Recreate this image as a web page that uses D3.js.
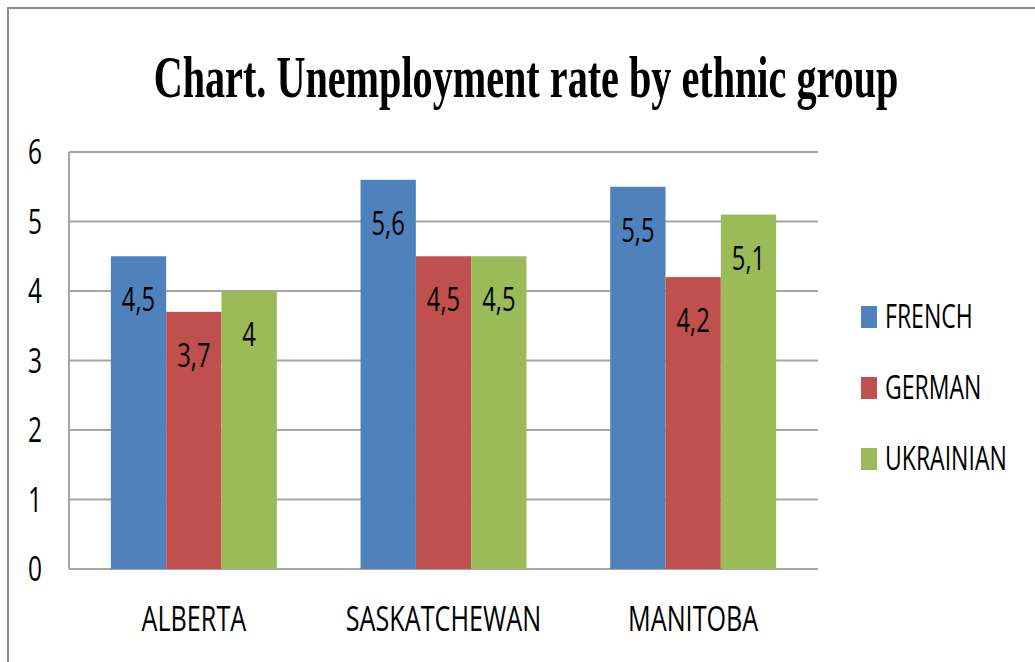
<!DOCTYPE html>
<html>
<head>
    <title>Unemployment rate by ethnic group</title>
    <script src="https://d3js.org/d3.v7.min.js"></script>
    <style>
        body { margin: 0; background: #fff; }
        svg { display: block; }
    </style>
</head>
<body>
    <div id="chart"></div>
    <script>
        // DATA
        var provinces = ['ALBERTA', 'SASKATCHEWAN', 'MANITOBA']
        var groups = ['FRENCH', 'GERMAN', 'UKRAINIAN']
        var french = [4.5, 5.6, 5.5]
        var german = [3.7, 4.5, 4.2]
        var ukrainian = [4, 4.5, 5.1]
        var yTicks = [0, 1, 2, 3, 4, 5, 6]
        var colors = ['#4F81BD', '#C0504D', '#9BBB59']

        var series = [french, german, ukrainian]

        // GENERAL SETUP
        var width = 1035
        var height = 662
        var sx = 0.72   // the picture is squeezed sideways, so is its text
        var font = '"Open Sans", sans-serif'

        var svg = d3.select('#chart').append('svg')
            .attr('width', width)
            .attr('height', height)

        // outer frame
        svg.append('rect')
            .attr('x', 8).attr('y', 8)
            .attr('width', width + 20).attr('height', height + 20)
            .attr('fill', 'none')
            .attr('stroke', '#8c8c8c')
            .attr('stroke-width', 2)

        function label(x, y, txt, size, anchor) {
            return svg.append('text')
                .attr('transform', 'translate(' + x + ',' + y + ') scale(' + sx + ',1)')
                .attr('text-anchor', anchor)
                .style('font-family', font)
                .style('font-size', size + 'px')
                .attr('fill', '#000')
                .text(txt)
        }

        // title, squeezed to the width it has in the picture
        var title = svg.append('text')
            .attr('text-anchor', 'middle')
            .style('font-family', '"Liberation Serif", "Times New Roman", serif')
            .style('font-weight', 'bold')
            .style('font-size', '60px')
            .text('Chart. Unemployment rate by ethnic group')
        var titleScale = 745 / title.node().getComputedTextLength()
        title.attr('transform', 'translate(526,97) scale(' + titleScale + ',1)')

        // SCALES
        var plotLeft = 69, plotRight = 818, plotTop = 152, plotBottom = 569
        var y = d3.scaleLinear().domain([0, 6]).range([plotBottom, plotTop])
        var x0 = d3.scaleBand().domain(provinces).range([plotLeft, plotRight]).padding(0)
        var x1 = d3.scaleBand().domain(groups).range([0, x0.bandwidth()])
            .paddingInner(0).paddingOuter(0.757)

        // gridlines
        svg.append('g').selectAll('line').data(yTicks).join('line')
            .attr('x1', plotLeft).attr('x2', plotRight)
            .attr('y1', d => y(d)).attr('y2', d => y(d))
            .attr('stroke', '#a6a6a6')
            .attr('stroke-width', 2)
        svg.append('line')
            .attr('x1', plotLeft).attr('x2', plotLeft)
            .attr('y1', plotTop).attr('y2', plotBottom)
            .attr('stroke', '#a6a6a6')
            .attr('stroke-width', 2)

        // y tick labels
        yTicks.forEach(function (t) {
            label(42, y(t) + 12, t, 34, 'end')
        })

        // BARS
        provinces.forEach(function (p, i) {
            groups.forEach(function (g, j) {
                var v = series[j][i]
                var bx = x0(p) + x1(g)
                svg.append('rect')
                    .attr('x', bx)
                    .attr('y', y(v))
                    .attr('width', x1.bandwidth())
                    .attr('height', y(0) - y(v))
                    .attr('fill', colors[j])
                label(bx + x1.bandwidth() / 2, y(v) + 55, String(v).replace('.', ','), 33, 'middle')
            })
        })

        // category labels
        provinces.forEach(function (p) {
            label(x0(p) + x0.bandwidth() / 2, 631, p, 35, 'middle')
        })

        // LEGEND
        groups.forEach(function (g, j) {
            var ly = 306 + j * 71
            svg.append('rect')
                .attr('x', 861).attr('y', ly)
                .attr('width', 16).attr('height', 22)
                .attr('fill', colors[j])
            label(885, ly + 22, g, 32, 'start')
        })
    </script>
</body>
</html>
